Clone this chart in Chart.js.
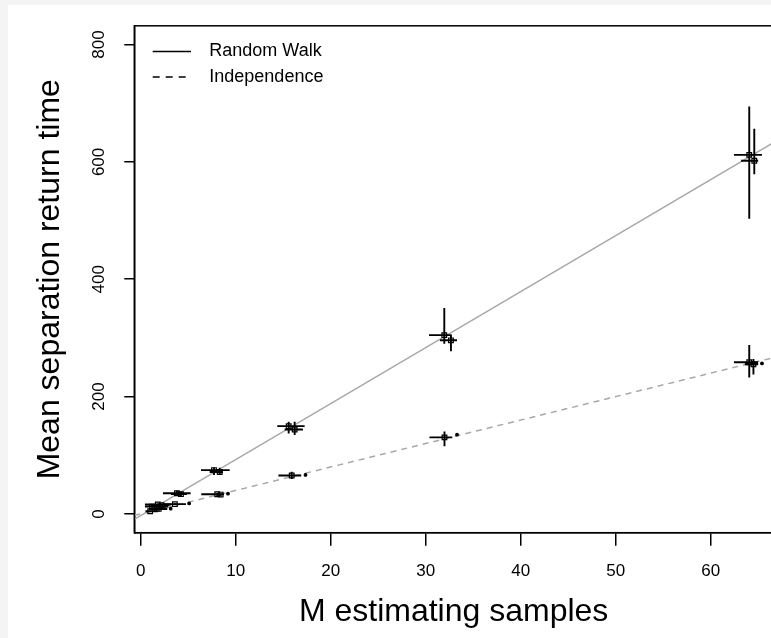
<!DOCTYPE html>
<html>
<head>
<meta charset="utf-8">
<script src="https://cdn.jsdelivr.net/npm/chart.js@4.4.1/dist/chart.umd.min.js"></script>
<style>
    html, body { margin: 0; padding: 0; background: #f4f4f4; overflow: hidden; }
    .plot { position: absolute; left: 8px; top: 5px; width: 780px; height: 633px; background: #fff; }
</style>
</head>
<body>
<div class="plot"><canvas class="return-chart" width="780" height="633"></canvas></div>
<script>
const xTicks = [0, 10, 20, 30, 40, 50, 60];
const yTicks = [0, 200, 400, 600, 800];

// random walk runs: centre, then ends of the x and y error bars
const rwX   = [1.2, 1.7, 1.8, 2.2, 3.82, 4.24, 7.72, 8.32, 15.58, 16.21, 31.96, 32.66, 64.06, 64.59];
const rwY   = [12.5, 9, 16.1, 15, 35.3, 33.7, 74.7, 71.4, 149.6, 143.9, 304.7, 295.9, 612, 602];
const rwXLo = [0.45, 1.0, 0.45, 1.0, 2.35, 3.19, 6.35, 7.26, 14.38, 15.16, 30.35, 31.5, 62.45, 63.2];
const rwXHi = [2.9, 2.7, 3.2, 3.0, 5.26, 4.87, 9.37, 8.66, 17.26, 17.08, 32.74, 33.3, 65.4, 65.0];
const rwYLo = [11, 8, 14.5, 14, 31.2, 29.5, 66.3, 66.3, 137.2, 134.5, 290, 277.4, 503.2, 579];
const rwYHi = [14, 10, 17.7, 16.5, 39.5, 37.9, 78.6, 78.6, 157.2, 157.2, 351, 304, 694.6, 656.6];

// independence runs
const indX   = [1.0, 1.9, 3.16, 3.6, 5.1, 8.06, 8.42, 9.19, 15.9, 17.35, 31.98, 33.3, 64.06, 64.5, 65.4];
const indY   = [4.5, 8.5, 9.0, 16.7, 17.9, 33.5, 33, 34.6, 65.5, 66.5, 130.5, 135, 258.5, 255, 256.6];
const indXLo = [0.5, 0.9, 3.16, 2.3, 5.1, 6.38, 8.42, 9.19, 14.5, 17.35, 30.4, 33.3, 62.45, 63.6, 65.4];
const indXHi = [1.8, 2.8, 3.16, 4.77, 5.1, 8.77, 8.42, 9.19, 16.9, 17.35, 32.8, 33.3, 65.0, 65.0, 65.4];
const indYLo = [3.5, 7.5, 9.0, 15.5, 17.9, 29, 30, 34.6, 59.5, 66.5, 115.5, 135, 232.6, 237.7, 256.6];
const indYHi = [5.5, 9.5, 9.0, 18, 17.9, 35.6, 35, 34.6, 72, 66.5, 140.6, 135, 288, 264, 256.6];

// fitted lines, end points
const fitX   = [-0.67, 66.56];
const rwFit  = [-9.4, 632.6];
const indFit = [-2.7, 266.2];

const FONT = "'Liberation Sans', Arial, sans-serif";

function points(xs, ys) {
    return xs.map((x, i) => ({ x: x, y: ys[i] }));
}

// horizontal bars, split apart by empty points
function hBars(y, lo, hi) {
    const out = [];
    y.forEach((v, i) => out.push({ x: lo[i], y: v }, { x: hi[i], y: v }, { x: null, y: null }));
    return out;
}

function vBars(x, lo, hi) {
    const out = [];
    x.forEach((v, i) => out.push({ x: v, y: lo[i] }, { x: v, y: hi[i] }, { x: null, y: null }));
    return out;
}

// runs with no spread get a small dot instead of the open square
function markerFor(yLo, yHi) {
    const flat = i => yLo[i] === yHi[i];
    return {
        showLine: false,
        pointStyle: ctx => flat(ctx.dataIndex) ? 'circle' : 'rect',
        pointRadius: ctx => flat(ctx.dataIndex) ? 1.3 : 3.3,
        pointBorderWidth: 1.2,
        pointBorderColor: '#000',
        pointBackgroundColor: ctx => flat(ctx.dataIndex) ? '#000' : 'rgba(0,0,0,0)'
    };
}

const bar = {
    showLine: true,
    spanGaps: false,
    pointRadius: 0,
    borderColor: '#000',
    borderWidth: 1.9
};

const fit = {
    showLine: true,
    pointRadius: 0,
    borderColor: '#a8a8a8',
    borderWidth: 1.5
};

// box round the plotting region
const frame = {
    id: 'frame',
    afterDatasetsDraw(chart) {
        const { ctx, chartArea: a } = chart;
        ctx.save();
        ctx.strokeStyle = '#000';
        ctx.lineWidth = 1.5;
        ctx.strokeRect(a.left, a.top, a.right - a.left, a.bottom - a.top);
        ctx.restore();
    }
};

// legend in the top left corner of the box
const keyBox = {
    id: 'keyBox',
    afterDraw(chart) {
        const { ctx, chartArea: a } = chart;
        const rows = [
            { text: 'Random Walk', dash: [] },
            { text: 'Independence', dash: [7, 6] }
        ];
        ctx.save();
        ctx.font = '18px ' + FONT;
        ctx.fillStyle = '#000';
        ctx.strokeStyle = '#000';
        ctx.lineWidth = 1.5;
        ctx.textBaseline = 'middle';
        rows.forEach((r, i) => {
            const y = a.top + 25.7 + i * 25.6;
            ctx.setLineDash(r.dash);
            ctx.beginPath();
            ctx.moveTo(a.left + 18.4, y);
            ctx.lineTo(a.left + 56.7, y);
            ctx.stroke();
            ctx.fillText(r.text, a.left + 75, y);
        });
        ctx.restore();
    }
};

new Chart(document.querySelector('.return-chart'), {
    type: 'scatter',
    data: {
        datasets: [
            { label: 'Random Walk', data: points(rwX, rwY), ...markerFor(rwYLo, rwYHi) },
            { label: 'rw x bars', data: hBars(rwY, rwXLo, rwXHi), ...bar },
            { label: 'rw y bars', data: vBars(rwX, rwYLo, rwYHi), ...bar },
            { label: 'Independence', data: points(indX, indY), ...markerFor(indYLo, indYHi) },
            { label: 'ind x bars', data: hBars(indY, indXLo, indXHi), ...bar },
            { label: 'ind y bars', data: vBars(indX, indYLo, indYHi), ...bar },
            { label: 'Random Walk fit', data: points(fitX, rwFit), ...fit },
            { label: 'Independence fit', data: points(fitX, indFit), ...fit, borderDash: [6, 5] }
        ]
    },
    options: {
        responsive: false,
        animation: false,
        layout: {
            padding: { top: 12, right: 15, left: 0, bottom: 0 }
        },
        scales: {
            x: {
                type: 'linear',
                min: -0.67,
                max: 66.56,
                afterBuildTicks: s => { s.ticks = xTicks.map(v => ({ value: v })); },
                afterFit: s => { s.height = 105.3; },
                grid: {
                    drawOnChartArea: false,
                    drawTicks: true,
                    tickLength: 13,
                    color: '#000',
                    lineWidth: 1.5
                },
                border: { display: true, color: '#000', width: 1.5 },
                ticks: {
                    color: '#000',
                    font: { family: FONT, size: 17 },
                    padding: 15.4,
                    maxRotation: 0,
                    autoSkip: false
                },
                title: {
                    display: true,
                    text: 'M estimating samples',
                    color: '#000',
                    font: { family: FONT, size: 32 },
                    padding: { top: 0, bottom: 6.8 }
                }
            },
            y: {
                type: 'linear',
                min: -32,
                max: 832,
                afterBuildTicks: s => { s.ticks = yTicks.map(v => ({ value: v })); },
                afterFit: s => { s.width = 126.3; },
                grid: {
                    drawOnChartArea: false,
                    drawTicks: true,
                    tickLength: 10,
                    color: '#000',
                    lineWidth: 1.5
                },
                border: { display: true, color: '#000', width: 1.5 },
                ticks: {
                    color: '#000',
                    font: { family: FONT, size: 17 },
                    padding: 10.6,
                    minRotation: 90,
                    maxRotation: 90,
                    crossAlign: 'center',
                    autoSkip: false
                },
                title: {
                    display: true,
                    text: 'Mean separation return time',
                    color: '#000',
                    font: { family: FONT, size: 32 },
                    padding: { top: 22.8, bottom: 0 }
                }
            }
        },
        plugins: {
            legend: { display: false },
            tooltip: { enabled: false }
        }
    },
    plugins: [frame, keyBox]
});
</script>
</body>
</html>
